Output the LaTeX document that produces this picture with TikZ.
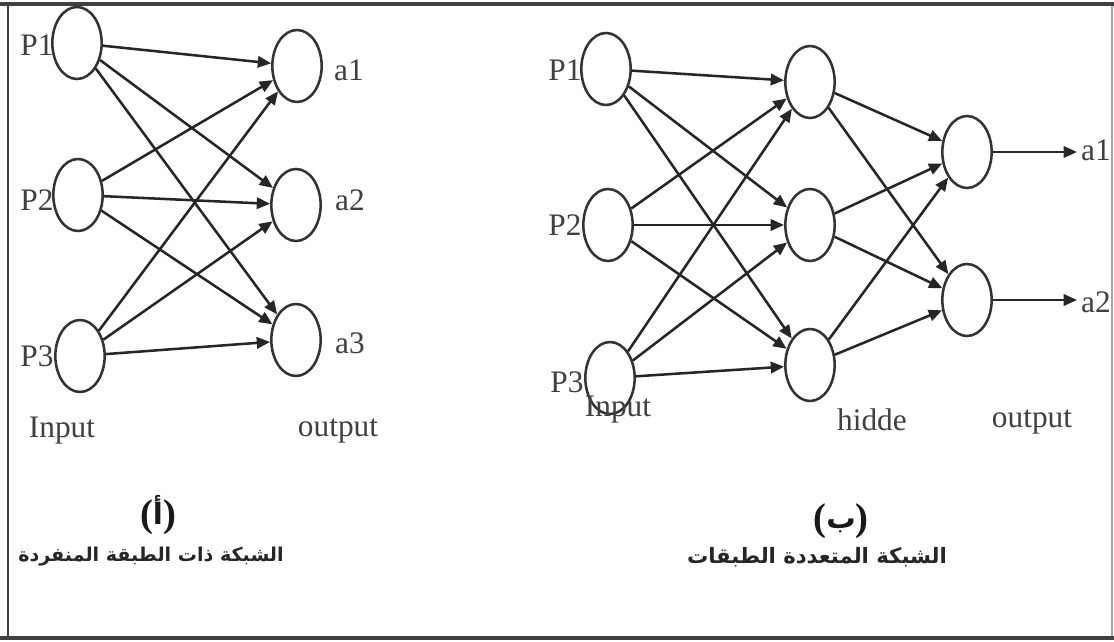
\documentclass[tikz,border=0pt]{standalone}
\usepackage{fontspec}
\usepackage{graphicx}
\setmainfont{Liberation Serif}
\newfontfamily\arabicfont[Script=Arabic]{DejaVu Sans}
\TeXXeTstate=1
\usetikzlibrary{shapes.geometric,arrows.meta}

\begin{document}
\begin{tikzpicture}[x=0.75pt,y=-0.75pt,
  neuron/.style={ellipse,draw=black!80,line width=1.9pt,
    minimum width=37pt,minimum height=54pt,inner sep=0pt},
  link/.style={draw=black!85,line width=1.9pt,
    -{Triangle[length=10pt,width=8.5pt]}},
  lbl/.style={font=\fontsize{23.5}{26}\selectfont,text=black!75,inner sep=0pt},
  tag/.style={font=\fontsize{29}{32}\selectfont\bfseries,text=black!90,inner sep=0pt},
  caption/.style={font=\arabicfont\bfseries\fontsize{15}{18}\selectfont,text=black!85,inner sep=0pt}
]
\useasboundingbox (0,0) rectangle (1114,642);
\fill[white] (0,0) rectangle (1114,642);

% frame
\draw[black!35,line width=0.8pt] (1112,4) -- (1112,638);
\draw[black!75,line width=2.6pt] (0,4) -- (1114,4);
\draw[black!75,line width=2.6pt] (0,638) -- (1114,638);
\draw[black!75,line width=1.8pt] (8,4) -- (8,638);

% single-layer network
\node[neuron] (p1) at (77,43) {};
\node[neuron] (p2) at (78,195) {};
\node[neuron] (p3) at (80,356) {};
\node[neuron] (a1) at (297,66) {};
\node[neuron] (a2) at (296,205) {};
\node[neuron] (a3) at (296,340) {};

\node[lbl] at (37,45) {P1};
\node[lbl] at (37,200) {P2};
\node[lbl] at (37,356) {P3};
\node[lbl] at (349,70) {a1};
\node[lbl] at (350,200) {a2};
\node[lbl] at (350,343) {a3};
\node[lbl] at (62,431) {Input};
\node[lbl] at (338,431) {output};

\foreach \s in {p1,p2,p3}
  \foreach \t in {a1,a2,a3}
    \draw[link] (\s) -- (\t);

% multi-layer network
\node[neuron] (q1) at (606,69) {};
\node[neuron] (q2) at (608,225) {};
\node[neuron] (q3) at (610,378) {};
\node[neuron] (h1) at (810,82) {};
\node[neuron] (h2) at (810,225) {};
\node[neuron] (h3) at (810,365) {};
\node[neuron] (o1) at (967,152) {};
\node[neuron] (o2) at (967,300) {};

\node[lbl] at (565,70) {P1};
\node[lbl] at (565,225) {P2};
\node[lbl] at (567,382) {P3};
\node[lbl] at (618,410) {Input};
\node[lbl] at (872,420) {hidde};
\node[lbl] at (1032,422) {output};
\node[lbl] at (1096,150) {a1};
\node[lbl] at (1096,302) {a2};

\foreach \s in {q1,q2,q3}
  \foreach \t in {h1,h2,h3}
    \draw[link] (\s) -- (\t);
\foreach \s in {h1,h2,h3}
  \foreach \t in {o1,o2}
    \draw[link] (\s) -- (\t);

\coordinate (y1) at (1077,152);
\coordinate (y2) at (1077,300);
\draw[link] (o1) -- (y1);
\draw[link] (o2) -- (y2);

% captions
\node[tag] at (158,515) {(\raisebox{1pt}{\arabicfont\fontsize{22}{24}\selectfont أ})};
\node[caption] at (151,557) {\resizebox{199pt}{!}{\beginR الشبكة ذات الطبقة المنفردة\endR}};
\node[tag] at (841,521) {(\raisebox{1pt}{\arabicfont\fontsize{22}{24}\selectfont ب})};
\node[caption] at (817,557) {\resizebox{195pt}{!}{\beginR الشبكة المتعددة  الطبقات\endR}};
\end{tikzpicture}
\end{document}
